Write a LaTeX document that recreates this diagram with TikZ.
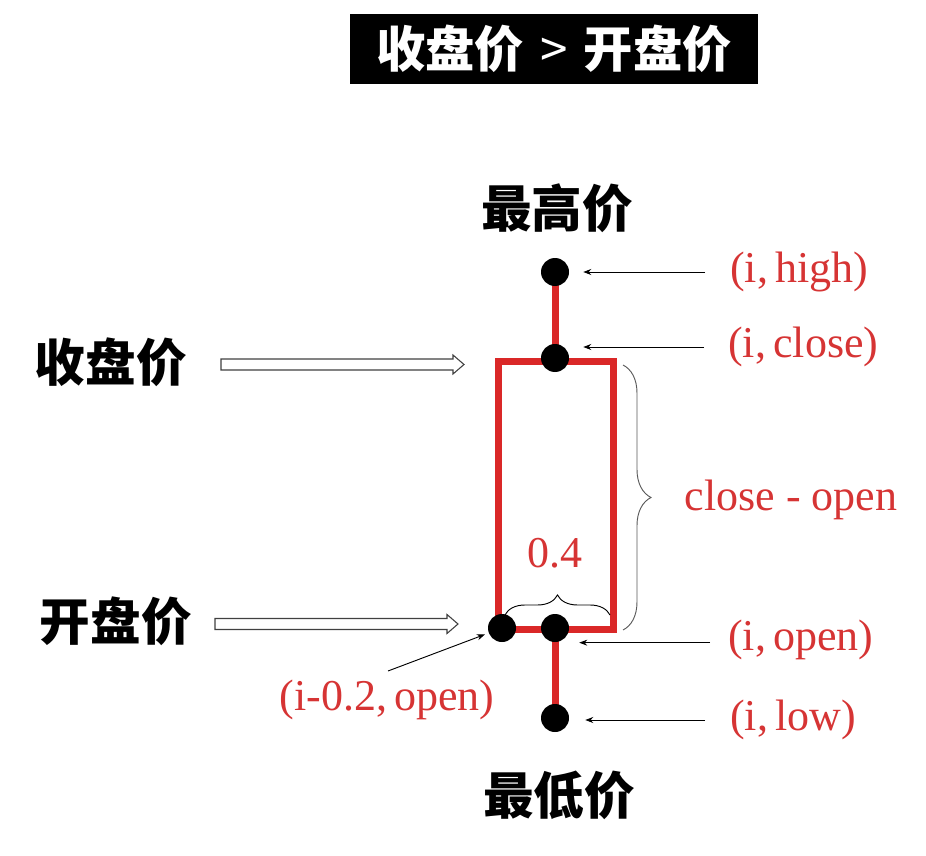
\documentclass[tikz,border=0pt]{standalone}
\usepackage{fontspec}
\setmainfont{Liberation Serif}
\newfontfamily\cjk{Noto Sans CJK SC}
\usetikzlibrary{arrows.meta,decorations.pathreplacing}
\definecolor{cred}{RGB}{218,40,40}
\definecolor{tred}{RGB}{214,52,52}
\tikzset{
  redline/.style={draw=cred, line width=5.25pt},
  dot/.style={circle, fill=black, minimum size=21pt, inner sep=0pt},
  lab/.style={text=tred, font=\fontsize{33}{37}\selectfont, inner sep=0pt},
  cjklab/.style={font=\cjk\bfseries\fontsize{38}{42}\selectfont, inner sep=0pt},
  thinarrow/.style={draw=black, line width=0.7pt, -{Stealth[length=6pt,width=4.5pt]}},
  blockarrow/.style={draw=black!75, fill=white, line width=0.8pt, line join=miter},
  bracestyle/.style={decorate, decoration={brace, amplitude=#1}, line width=0.7pt}
}
\begin{document}
\begin{tikzpicture}[x=0.75pt,y=-0.75pt]
\useasboundingbox (0,0) rectangle (926,856);
% title
\node[fill=black, text=white, font=\cjk\bfseries\fontsize{37}{40}\selectfont,
  minimum width=306pt, minimum height=52.5pt, inner sep=0pt] (title) at (554,49)
  {收盘价\hspace{12pt}{\cjk\mdseries >}\hspace{12pt}开盘价};
% cjk labels
\node[cjklab] (lhigh) at (557,208) {最高价};
\node[cjklab] (llow) at (559,795) {最低价};
\node[cjklab] (lclose) at (111,362) {收盘价};
\node[cjklab] (lopen) at (116,621) {开盘价};
% coordinates
\coordinate (pH) at (555,272);
\coordinate (pC) at (555,358);
\coordinate (pO) at (555,628);
\coordinate (pOL) at (502,628);
\coordinate (pL) at (555,718);
% candle
\draw[redline] (498,361) rectangle (613,629);
\draw[redline] (pH) -- (pC);
\draw[redline] (pO) -- (pL);
\node[dot] (H) at (pH) {};
\node[dot] (C) at (pC) {};
\node[dot] (O) at (pO) {};
\node[dot] (OL) at (pOL) {};
\node[dot] (L) at (pL) {};
% braces
\coordinate (bT) at (623,365);
\coordinate (bB) at (623,630);
\draw[bracestyle=21pt, draw=black!65] (bT) -- (bB);
\coordinate (sL) at (505,615);
\coordinate (sR) at (610,615);
\draw[bracestyle=15pt] (sL) -- (sR);
\node[lab] (w04) at (555,553) {0.4};
\node[lab] (diff) at (791,500) {close - open};
% right labels
\node[lab, anchor=west] (tH) at (730,272) {(i,\,high)};
\node[lab, anchor=west] (tC) at (728,347) {(i,\,close)};
\node[lab, anchor=west] (tO) at (728,640) {(i,\,open)};
\node[lab, anchor=west] (tL) at (730,720) {(i,\,low)};
\node[lab] (tOL) at (387,700) {(i-0.2,\,open)};
% thin arrows
\draw[thinarrow] ([xshift=-18.75pt]tH.west) -- ([xshift=10.5pt]tH.west -| H.east);
\draw[thinarrow] ([xshift=-18pt]tC.west) -- ([xshift=10.5pt]tC.west -| C.east);
\draw[thinarrow] ([xshift=-13.5pt,yshift=-2pt]tO.west) -- ([xshift=7.5pt,yshift=-2pt]tO.west -| O.east);
\draw[thinarrow] ([xshift=-18.75pt]tL.west) -- ([xshift=12pt]tL.west -| L.east);
\coordinate (sOL) at (388,671);
\draw[thinarrow, shorten >=3pt] (sOL) -- (OL);
% block arrows (hollow)
\coordinate (aCs) at (221,364.5);
\coordinate (aOs) at (215,624);
\foreach \s in {aCs,aOs}{
  \draw[blockarrow] (\s) ++(0,-5.5) -- ++(232,0) -- ++(0,-4) -- ++(11,9.5)
     -- ++(-11,9.5) -- ++(0,-4) -- ++(-232,0) -- cycle;
}
\end{tikzpicture}
\end{document}
